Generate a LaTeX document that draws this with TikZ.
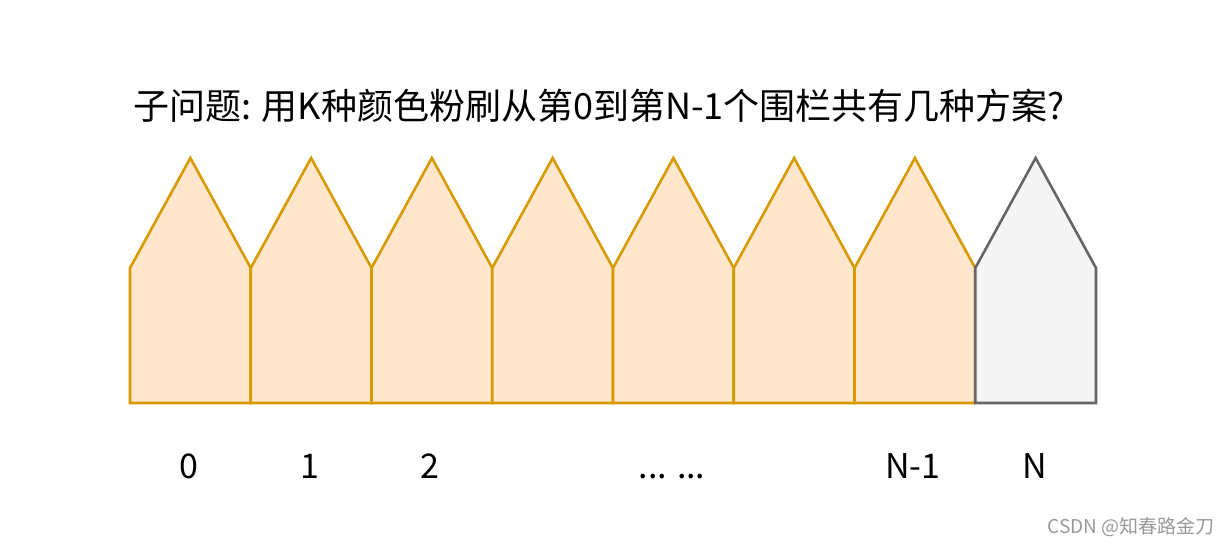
\documentclass[tikz,border=0pt]{standalone}
\usepackage{fontspec}
\newfontfamily\cjk{Noto Sans CJK SC}
\definecolor{fenceline}{HTML}{D79B00}
\definecolor{fencefill}{HTML}{FFE6CC}
\definecolor{lastline}{HTML}{666666}
\definecolor{lastfill}{HTML}{F5F5F5}
\definecolor{wmgray}{HTML}{999999}

\begin{document}
\begin{tikzpicture}[x=1pt,y=-1pt,
    picket/.style={draw=fenceline,fill=fencefill,line width=2.6pt,line join=miter},
    lastpicket/.style={picket,draw=lastline,fill=lastfill},
    idx/.style={anchor=base,font=\cjk\fontsize{34}{40}\selectfont}]

  \useasboundingbox (0,0) rectangle (1228,546);

  % title
  \node[anchor=base west,inner sep=0pt,font=\cjk\fontsize{36}{42}\selectfont]
    (title) at (133,119) {子问题: 用K种颜色粉刷从第0到第N-1个围栏共有几种方案?};

  % fence 0 .. N-1
  \foreach \i in {0,...,6} {
    \pgfmathsetmacro\xl{130+120.75*\i}
    \draw[picket] (\xl,403) -- (\xl,268) -- (\xl+60.375,158)
      -- (\xl+120.75,268) -- (\xl+120.75,403) -- cycle;
  }

  % picket N
  \draw[lastpicket] (975.25,403) -- (975.25,268) -- (1035.625,158)
    -- (1096,268) -- (1096,403) -- cycle;

  % labels
  \node[idx] (l0) at (189,478) {0};
  \node[idx] (l1) at (310,478) {1};
  \node[idx] (l2) at (430,478) {2};
  \node[idx] (ldots) at (672,478) {... ...};
  \node[idx] (lnm1) at (913,478) {N-1};
  \node[idx] (ln) at (1035,478) {N};

  % watermark
  \node[anchor=base east,inner sep=0pt,text=wmgray,font=\cjk\fontsize{19}{22}\selectfont]
    (wm) at (1215,533) {CSDN @知春路金刀};

\end{tikzpicture}
\end{document}
